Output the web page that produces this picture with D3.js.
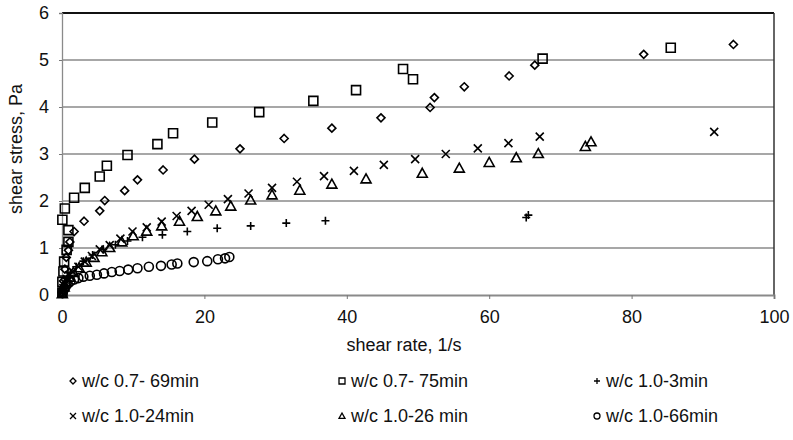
<!DOCTYPE html>
<html><head><meta charset="utf-8">
<script src="https://cdn.jsdelivr.net/npm/d3@7"></script>
<style>
html,body{margin:0;padding:0;background:#fff;}
svg text{font-family:"Liberation Sans",Arial,sans-serif;fill:#111;}
</style></head>
<body><svg id="c" width="793" height="440"></svg>
<script>
// ---- data ----
const seriesNames = ["w/c 0.7- 69min","w/c 0.7- 75min","w/c 1.0-3min","w/c 1.0-24min","w/c 1.0-26 min","w/c 1.0-66min"];
const seriesSymbols = ["diamond","square","plus","cross","triangle","circle"];

const diamondX = [0.05,0.2,0.4,0.6,0.9,1.1,1.7,3.1,5.3,6.0,8.8,10.6,14.2,18.6,25.0,31.2,37.9,44.8,51.7,52.3,56.5,62.8,66.4,81.7,94.3];
const diamondY = [0.05,0.3,0.55,0.8,0.95,1.13,1.35,1.57,1.79,2.01,2.22,2.45,2.66,2.89,3.11,3.33,3.55,3.77,3.99,4.2,4.43,4.66,4.89,5.12,5.33];

const squareX = [0.05,0.05,0.2,0.3,0.65,0.9,0.9,0.05,0.4,1.7,3.2,5.3,6.3,9.2,13.4,15.6,21.1,27.7,35.3,41.3,49.3,47.9,67.5,85.5];
const squareY = [0.05,0.28,0.5,0.71,0.96,1.13,1.38,1.6,1.84,2.07,2.28,2.52,2.75,2.98,3.21,3.44,3.67,3.89,4.13,4.36,4.59,4.81,5.03,5.26];

const plusX = [0.05,0.3,0.7,1.2,2.0,3.0,4.3,5.8,7.5,9.2,11.3,14.1,17.6,21.8,26.5,31.5,37.0,65.2,65.5];
const plusY = [0.04,0.2,0.35,0.47,0.6,0.72,0.85,0.97,1.07,1.15,1.23,1.28,1.35,1.42,1.47,1.53,1.58,1.65,1.7];

const crossX = [0.05,0.2,0.4,0.7,1.0,1.5,2.3,3.2,4.2,5.3,6.7,8.2,9.9,11.9,14.0,16.1,18.2,20.6,23.3,26.2,29.5,33.0,36.8,41.0,45.2,49.6,53.9,58.4,62.7,67.1,91.6];
const crossY = [0.05,0.15,0.25,0.34,0.42,0.5,0.6,0.71,0.83,0.97,1.06,1.2,1.35,1.44,1.56,1.68,1.79,1.92,2.04,2.16,2.28,2.41,2.53,2.64,2.77,2.89,3.0,3.12,3.23,3.37,3.47];

const triX = [0.05,0.3,0.6,1.0,1.6,2.4,3.4,4.5,5.6,6.7,8.4,10.0,11.9,14.0,16.5,19.0,21.6,23.7,26.5,29.5,33.4,37.9,42.7,50.6,55.8,60.0,63.8,66.9,73.5,74.3];
const triY = [0.03,0.17,0.28,0.38,0.48,0.58,0.7,0.8,0.92,1.01,1.13,1.26,1.36,1.47,1.57,1.67,1.79,1.89,2.02,2.13,2.23,2.36,2.47,2.59,2.7,2.82,2.92,3.01,3.16,3.26];

const circleX = [0.1,0.3,0.5,0.8,1.2,1.7,2.3,3.0,3.9,4.9,5.9,7.0,8.1,9.3,10.6,12.2,13.9,15.4,16.2,18.5,20.4,21.9,22.9,23.5];
const circleY = [0.05,0.12,0.18,0.24,0.29,0.33,0.36,0.39,0.41,0.43,0.46,0.49,0.51,0.54,0.57,0.6,0.62,0.65,0.67,0.7,0.72,0.76,0.78,0.81];

const xTicks = [0,20,40,60,80,100];
const yTicks = [0,1,2,3,4,5,6];
const xTitle = "shear rate, 1/s";
const yTitle = "shear stress, Pa";

const seriesData = [
  [diamondX, diamondY],[squareX, squareY],[plusX, plusY],
  [crossX, crossY],[triX, triY],[circleX, circleY]
];

// ---- layout ----
const L = 62, R = 774, T = 13, B = 295;
const FS = 18;
const svg = d3.select("#c");
const x = d3.scaleLinear().domain([0,100]).range([L,R]);
const y = d3.scaleLinear().domain([0,6]).range([B,T]);

// gridlines
svg.append("g").selectAll("line").data(yTicks.filter(v=>v>0 && v<6)).join("line")
  .attr("x1",L).attr("x2",R).attr("y1",d=>y(d)).attr("y2",d=>y(d))
  .attr("stroke","#8a8a8a").attr("stroke-width",1.3);

// frame: top and right
svg.append("line").attr("x1",L).attr("x2",R).attr("y1",y(6)).attr("y2",y(6)).attr("stroke","#111").attr("stroke-width",2);
svg.append("line").attr("x1",R).attr("x2",R).attr("y1",T).attr("y2",B).attr("stroke","#333").attr("stroke-width",1.5);

// axes
const xAxis = d3.axisBottom(x).tickValues(xTicks).tickSize(4).tickPadding(11).tickFormat(d3.format("d"));
const gx = svg.append("g").attr("transform",`translate(0,${B})`).call(xAxis);
gx.select(".domain").attr("stroke","#8a8a8a").attr("stroke-width",2);
gx.selectAll(".tick line").attr("stroke","#777");
gx.selectAll(".tick text").attr("font-size",FS).attr("fill","#111");

const yAxis = d3.axisLeft(y).tickValues(yTicks).tickSize(3).tickPadding(10).tickFormat(d3.format("d"));
const gy = svg.append("g").attr("transform",`translate(${L},0)`).call(yAxis);
gy.select(".domain").attr("stroke","#8a8a8a").attr("stroke-width",1.3);
gy.selectAll(".tick line").attr("stroke","#777");
gy.selectAll(".tick text").attr("font-size",FS).attr("fill","#111");

// titles
svg.append("text").attr("x",404).attr("y",351).attr("text-anchor","middle").attr("font-size",FS).text(xTitle);
svg.append("text").attr("transform",`translate(22,149) rotate(-90)`).attr("text-anchor","middle").attr("font-size",FS).text(yTitle);

// marker paths
function markerPath(type, s){
  const h = s/2;
  switch(type){
    case "diamond": return `M0,${-h}L${h},0L0,${h}L${-h},0Z`;
    case "square": return `M${-h},${-h}H${h}V${h}H${-h}Z`;
    case "plus": return `M${-h},0H${h}M0,${-h}V${h}`;
    case "cross": return `M${-h},${-h}L${h},${h}M${-h},${h}L${h},${-h}`;
    case "triangle": return `M0,${-h}L${h},${h*0.8}L${-h},${h*0.8}Z`;
    case "circle": return `M${h},0A${h},${h} 0 1,1 ${-h},0A${h},${h} 0 1,1 ${h},0Z`;
  }
}
const markerSize = {diamond:8, square:9, plus:8, cross:8, triangle:10, circle:9};

const gPts = svg.append("g");
seriesData.forEach((sd,i)=>{
  const type = seriesSymbols[i];
  const pts = sd[0].map((v,j)=>[v, sd[1][j]]);
  gPts.append("g").selectAll("path").data(pts).join("path")
    .attr("transform",d=>`translate(${x(d[0])},${y(d[1])})`)
    .attr("d",markerPath(type, markerSize[type]))
    .attr("fill","none").attr("stroke","#000").attr("stroke-width",1.6);
});

// legend
const legX = [73, 342, 597], legY = [381, 416];
const lg = svg.append("g");
seriesNames.forEach((name,i)=>{
  const cx = legX[i%3], cy = legY[Math.floor(i/3)];
  const type = seriesSymbols[i];
  lg.append("path").attr("transform",`translate(${cx},${cy})`)
    .attr("d",markerPath(type, 6)).attr("fill","none").attr("stroke","#000").attr("stroke-width",1.3);
  lg.append("text").attr("x",cx+9).attr("y",cy+6).attr("font-size",FS).text(name);
});
</script></body></html>
